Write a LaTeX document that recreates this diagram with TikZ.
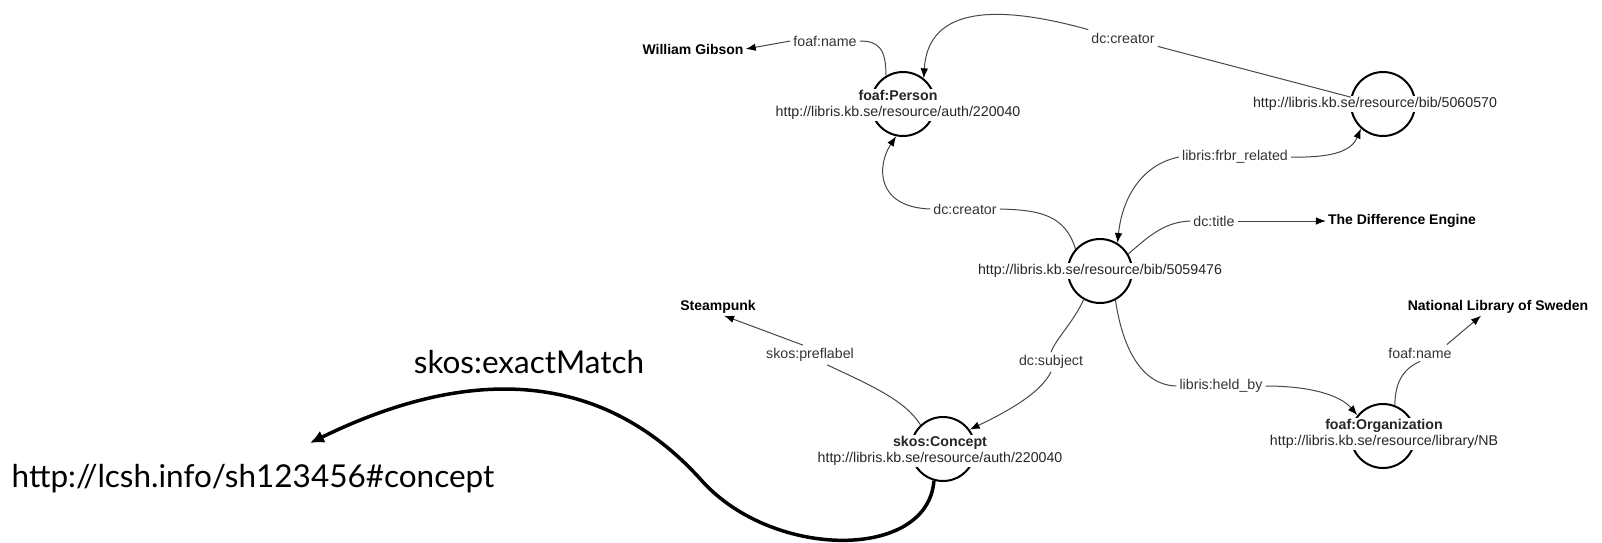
\documentclass[tikz,border=0pt]{standalone}
\usepackage{fontspec}
\setmainfont{Liberation Sans}
\newfontfamily\gillfont{Lato}
\usetikzlibrary{arrows.meta}
\begin{document}
\begin{tikzpicture}[x=1pt,y=-1pt,
  res/.style={circle, draw=black, line width=2pt, minimum size=64pt, inner sep=0pt},
  rtext/.style={fill=white, inner sep=1pt, align=center, text=black!85, font=\fontsize{14.2}{16.5}\selectfont},
  lit/.style={inner sep=2pt, text=black, font=\bfseries\fontsize{14}{16}\selectfont},
  elab/.style={inner sep=3pt, text=black!80, font=\fontsize{14.2}{16}\selectfont},
  big/.style={inner sep=2pt, text=black, anchor=base, font=\gillfont\fontsize{31.5}{36}\selectfont},
  edge/.style={draw=black!72, line width=1pt},
  arr/.style={-{Latex[length=10pt,width=7.5pt,color=black]}},
  thickarr/.style={draw=black, line width=3.5pt, -{Latex[length=14pt,width=13pt]}}
]
\useasboundingbox (0,0) rectangle (1602,542);

% resource circles
\node[res] (person) at (903,104) {};
\node[res] (bibtwo) at (1383,104) {};
\node[res] (bibone) at (1100,271) {};
\node[res] (concept) at (943,449) {};
\node[res] (org) at (1383,436) {};

% resource texts
\node[rtext] (personT) at (898,105) {\textbf{foaf:Person}\\http://libris.kb.se/resource/auth/220040};
\node[rtext] (bibtwoT) at (1375,104) {http://libris.kb.se/resource/bib/5060570};
\node[rtext] (biboneT) at (1100,271) {http://libris.kb.se/resource/bib/5059476};
\node[rtext] (conceptT) at (940,451) {\textbf{skos:Concept}\\http://libris.kb.se/resource/auth/220040};
\node[rtext] (orgT) at (1384,434) {\textbf{foaf:Organization}\\http://libris.kb.se/resource/library/NB};

% literals
\node[lit] (gibson) at (693,49) {William Gibson};
\node[lit] (diffeng) at (1402,221) {The Difference Engine};
\node[lit] (steampunk) at (718,307) {Steampunk};
\node[lit] (nls) at (1498,307) {National Library of Sweden};
\node[big] (lcsh) at (253,487) {http://lcsh.info/sh123456\#concept};
\node[big] (exact) at (529,373) {skos:exactMatch};
\coordinate (lcshtip) at (310,443);

% edge labels
\node[elab] (fnameA) at (825,41) {foaf:name};
\node[elab] (creA) at (1123,38) {dc:creator};
\node[elab] (frbr) at (1235,157) {libris:frbr\_related};
\node[elab] (creB) at (965,209) {dc:creator};
\node[elab] (title) at (1214,221) {dc:title};
\node[elab] (pref) at (810,355) {skos:preflabel};
\node[elab] (subj) at (1051,362) {dc:subject};
\node[elab] (held) at (1221,386) {libris:held\_by};
\node[elab] (fnameB) at (1420,353) {foaf:name};

% connectors
\draw[edge] (person.121) .. controls (886,48) and (878,41) .. (fnameA.east);
\draw[edge,arr] (fnameA.west) -- (gibson.east);

\draw[edge] (bibtwo.168) -- (creA.south east);
\draw[edge,arr] (creA.north west) .. controls (1000,5) and (928,5) .. (person.51);

\draw[edge,arr] (frbr.west) .. controls (1140,165) and (1122,200) .. (bibone.58);
\draw[edge,arr] (frbr.east) .. controls (1335,158) and (1352,150) .. (bibtwo.-132);

\draw[edge] (bibone.138) .. controls (1065,215) and (1040,210) .. (creB.east);
\draw[edge,arr] (creB.west) .. controls (875,207) and (877,165) .. (person.-102);

\draw[edge] (bibone.31) .. controls (1150,235) and (1165,222) .. (title.west);
\draw[edge,arr] (title.east) -- (diffeng.west);

\draw[edge] (bibone.-120) .. controls (1075,320) and (1055,340) .. (subj.north);
\draw[edge,arr] (subj.south) .. controls (1040,395) and (1000,415) .. (concept.36);

\draw[edge] (bibone.-62) .. controls (1122,345) and (1140,385) .. (held.west);
\draw[edge,arr] (held.east) .. controls (1310,386) and (1340,395) .. (org.141);

\draw[edge] (org.69) .. controls (1395,380) and (1405,368) .. (fnameB.south);
\draw[edge,arr] ([xshift=-8pt]fnameB.north east) -- ([xshift=-17pt]nls.south);

\draw[edge] (concept.133) .. controls (905,400) and (870,385) .. (pref.-30);
\draw[edge,arr] (pref.125) -- (steampunk.-55);

\draw[thickarr] (concept.-106) .. controls (928,560) and (775,560) .. (703,482)
  .. controls (593,358) and (451,374) .. (lcshtip);
\end{tikzpicture}
\end{document}
